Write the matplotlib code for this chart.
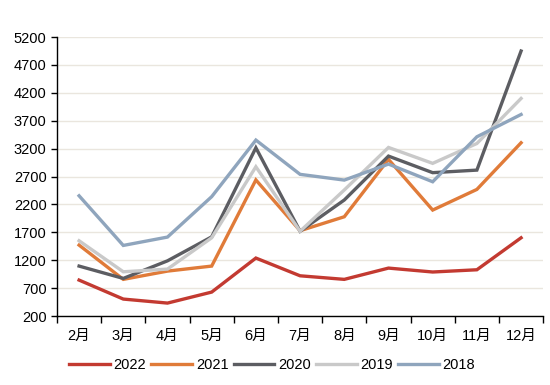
import matplotlib
matplotlib.use("Agg")
import matplotlib.pyplot as plt
from matplotlib.ticker import FixedLocator

plt.rcParams['font.family'] = ['Liberation Sans', 'Noto Sans CJK SC', 'DejaVu Sans']

months = ["2月", "3月", "4月", "5月", "6月", "7月", "8月", "9月", "10月", "11月", "12月"]
y2022 = [845, 505, 433, 630, 1240, 922, 858, 1060, 990, 1030, 1603]
y2021 = [1472, 858, 1006, 1096, 2640, 1730, 1980, 3008, 2100, 2470, 3306]
y2020 = [1096, 875, 1190, 1620, 3216, 1720, 2280, 3067, 2770, 2816, 4950]
y2019 = [1550, 994, 1042, 1603, 2876, 1720, 2460, 3222, 2937, 3293, 4100]
y2018 = [2356, 1466, 1616, 2340, 3354, 2740, 2637, 2924, 2607, 3413, 3813]

series = [
    ("2022", y2022, "#C33A31"),
    ("2021", y2021, "#E07B39"),
    ("2020", y2020, "#5C5D62"),
    ("2019", y2019, "#C9C9C9"),
    ("2018", y2018, "#8FA5BD"),
]

fig = plt.figure(figsize=(5.5, 3.85), dpi=100)
ax = fig.add_axes([0.1036, 0.179, 0.884, 0.7247])

x = list(range(len(months)))
for label, vals, color in series:
    ax.plot(x, vals, color=color, lw=2.4, label=label, solid_joinstyle="miter")

ax.set_xlim(-0.5, len(months) - 0.5)
ax.set_ylim(200, 5200)
ax.set_yticks(range(200, 5201, 500))
ax.yaxis.grid(True, color="#EAE6DE", lw=1)
ax.set_axisbelow(True)

ax.set_xticks(x)
ax.set_xticklabels(months)
ax.xaxis.set_minor_locator(FixedLocator([i - 0.5 for i in range(len(months) + 1)]))
ax.tick_params(axis="x", which="major", length=0, pad=9, labelsize=10.5)
ax.tick_params(axis="x", which="minor", length=5, width=1, direction="out")
ax.tick_params(axis="y", length=4, width=1, direction="out", labelsize=10.5)

for s in ["top", "right"]:
    ax.spines[s].set_visible(False)
for s in ["left", "bottom"]:
    ax.spines[s].set_color("black")
    ax.spines[s].set_linewidth(1)

fig.legend(loc="lower center", bbox_to_anchor=(0.495, 0.0), ncol=5, frameon=False,
           handlelength=2.8, columnspacing=0.35, handletextpad=0.25, fontsize=10.5)

fig.savefig("out.png", dpi=100)
